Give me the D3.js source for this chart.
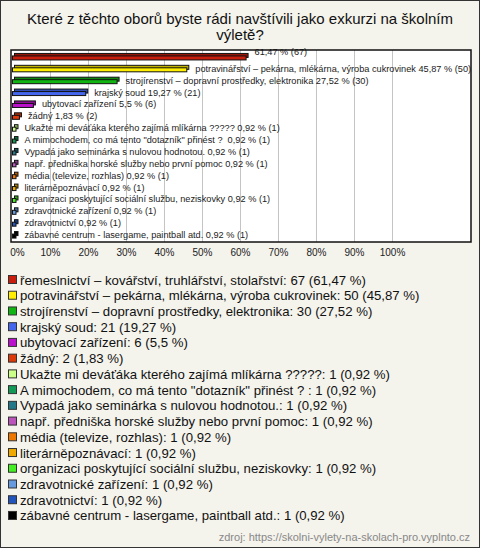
<!DOCTYPE html>
<html><head><meta charset="utf-8">
<script src="https://cdn.jsdelivr.net/npm/d3@7"></script>
<style>
html,body{margin:0;padding:0;background:#fff;}
svg{display:block;font-family:"Liberation Sans",Arial,sans-serif;}
text{white-space:pre;}
</style></head>
<body>
<svg id="c" width="480" height="548"></svg>
<script>
const titleLines = ["Které z těchto oborů byste rádi navštívili jako exkurzi na školním", "výletě?"];
const categories = [
  "řemeslnictví – kovářství, truhlářství, stolařství",
  "potravinářství – pekárna, mlékárna, výroba cukrovinek",
  "strojírenství – dopravní prostředky, elektronika",
  "krajský soud",
  "ubytovací zařízení",
  "žádný",
  "Ukažte mi deváťáka kterého zajímá mlíkárna ?????",
  "A mimochodem, co má tento \"dotazník\" přinést ? ",
  "Vypadá jako seminárka s nulovou hodnotou.",
  "např. předniška horské služby nebo první pomoc",
  "média (televize, rozhlas)",
  "literárněpoznávací",
  "organizaci poskytující sociální službu, neziskovky",
  "zdravotnické zařízení",
  "zdravotnictví",
  "zábavné centrum - lasergame, paintball atd."
];
const counts = [67, 50, 30, 21, 6, 2, 1, 1, 1, 1, 1, 1, 1, 1, 1, 1];
const percents = [61.47, 45.87, 27.52, 19.27, 5.5, 1.83, 0.92, 0.92, 0.92, 0.92, 0.92, 0.92, 0.92, 0.92, 0.92, 0.92];
const colors = ["#c81c0c", "#ffee00", "#11b511", "#4466ee", "#bb11cc", "#dd3a0a", "#ccff88", "#119955", "#227788", "#bb55bb", "#ee7700", "#eeaa00", "#44ee22", "#6699dd", "#2255bb", "#000000"];
const tickValues = [0, 10, 20, 30, 40, 50, 60, 70, 80, 90, 100];
const sourceText = "zdroj: https://skolni-vylety-na-skolach-pro.vyplnto.cz";

const fmt = v => String(v).replace(".", ",");
const svg = d3.select("#c");
const W = 480, H = 548;

svg.append("rect").attr("x", 0.5).attr("y", 0.5).attr("width", W - 1).attr("height", H - 1)
  .attr("fill", "#f4f3ec").attr("stroke", "#333");

svg.append("g").selectAll("text").data(titleLines).join("text")
  .attr("x", 240).attr("y", (d, i) => 24 + i * 16)
  .attr("text-anchor", "middle").attr("font-size", 15).attr("fill", "#111").text(d => d);

const plot = {left: 11, right: 471, top: 50, bottom: 242};
const x = d3.scaleLinear().domain([0, 100]).range([12, 392]);
const y = d3.scaleBand().domain(d3.range(categories.length)).range([51, 241]);

svg.append("rect").attr("x", plot.left).attr("y", plot.top)
  .attr("width", plot.right - plot.left).attr("height", plot.bottom - plot.top)
  .attr("fill", "#fff");

// gridlines
svg.append("g").selectAll("line").data(tickValues.filter(v => v > 0)).join("line")
  .attr("x1", d => x(d) + 0.5).attr("x2", d => x(d) + 0.5)
  .attr("y1", plot.top).attr("y2", plot.bottom)
  .attr("stroke", "#c4c4c4").attr("stroke-width", 1);

const bars = svg.append("g");
const rows = categories.map((c, i) => ({name: c, n: counts[i], p: percents[i], color: colors[i], i}));
rows.forEach(d => {
  const cy = y(d.i) + y.bandwidth() / 2;
  const x0 = x(0), x1 = x(d.p);
  const w = Math.max(x1 - x0, 1);
  const dark = d3.color(d.color).darker(0.8);
  bars.append("rect").attr("x", x0 + 2.5).attr("y", cy - 3.5).attr("width", w).attr("height", 4)
    .attr("fill", dark).attr("stroke", "#111").attr("stroke-width", 1);
  bars.append("rect").attr("x", x0 + 0.5).attr("y", cy - 1).attr("width", w).attr("height", 4)
    .attr("fill", d.color).attr("stroke", "#111").attr("stroke-width", 1);
});

const labels = svg.append("g").attr("font-size", 9.2).attr("fill", "#222");
rows.forEach(d => {
  const cy = y(d.i) + y.bandwidth() / 2;
  const valTxt = fmt(d.p) + " % (" + d.n + ")";
  const tx = x(d.p) + 9;
  const t = labels.append("text").attr("x", tx).attr("y", cy + 3).text(d.name + " " + valTxt);
  if (tx + t.node().getComputedTextLength() > 480) {
    t.text(valTxt).attr("y", cy - 2);
  }
});

svg.append("rect").attr("x", plot.left).attr("y", plot.top)
  .attr("width", plot.right - plot.left).attr("height", plot.bottom - plot.top)
  .attr("fill", "none").attr("stroke", "#111").attr("stroke-width", 1.5);

// axis labels
const axis = d3.axisBottom(x).tickValues(tickValues).tickFormat(d => d + "%").tickSize(0).tickPadding(0);
const ag = svg.append("g").attr("transform", "translate(0,249)").call(axis);
ag.select(".domain").remove();
ag.selectAll("text").attr("font-size", 10).attr("fill", "#222")
  .attr("font-family", "'Liberation Sans',Arial,sans-serif").attr("dy", "0.71em");
ag.selectAll(".tick").filter(d => d === 0).select("text").attr("dx", 5);

// legend
const lg = svg.append("g");
rows.forEach(d => {
  const cy = 280 + d.i * 15.73;
  lg.append("rect").attr("x", 8.5).attr("y", cy - 4.5).attr("width", 8).attr("height", 8)
    .attr("fill", d.color).attr("stroke", "#333").attr("stroke-width", 1);
  lg.append("text").attr("x", 20).attr("y", cy + 4.5).attr("font-size", 13.2).attr("fill", "#111")
    .text(d.name + ": " + d.n + " (" + fmt(d.p) + " %)");
});

svg.append("text").attr("x", 470).attr("y", 541).attr("text-anchor", "end")
  .attr("font-size", 11).attr("fill", "#888").text(sourceText);
</script>
</body></html>
